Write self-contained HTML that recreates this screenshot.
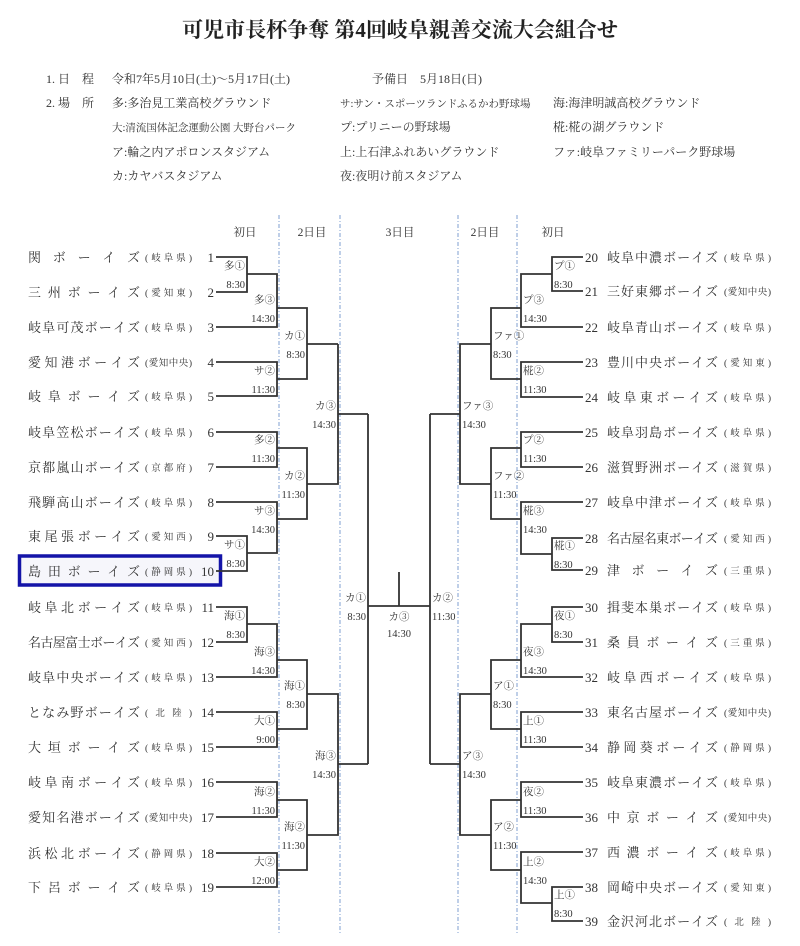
<!DOCTYPE html>
<html><head><meta charset="utf-8"><style>
html,body{margin:0;padding:0;background:#fff;}
svg{display:block;}
text{font-family:"Liberation Serif","Noto Serif CJK SC","Noto Sans CJK JP",serif;fill:#333;}
.t{font-size:13px;}
.p{font-size:9.5px;}
.n{font-size:13px;}
.l{font-size:10.5px;}
.h{font-size:11.5px;}
</style></head><body>
<svg width="800" height="946" viewBox="0 0 800 946" xmlns="http://www.w3.org/2000/svg">
<text x="400" y="37" text-anchor="middle" style="font-size:21px;font-weight:bold;fill:#222">可児市長杯争奪 第4回岐阜親善交流大会組合せ</text>
<g style="font-size:12px">
<text x="46" y="83">1. 日　程</text><text x="112" y="83">令和7年5月10日(土)～5月17日(土)</text><text x="372" y="83">予備日　5月18日(日)</text>
<text x="46" y="107">2. 場　所</text><text x="112" y="107">多:多治見工業高校グラウンド</text><text x="340" y="107" style="font-size:10.5px">サ:サン・スポーツランドふるかわ野球場</text><text x="553" y="107">海:海津明誠高校グラウンド</text>
<text x="112" y="131" style="font-size:10.5px">大:清流国体記念運動公園 大野台パーク</text><text x="340" y="131">プ:プリニーの野球場</text><text x="553" y="131">椛:椛の湖グラウンド</text>
<text x="112" y="156">ア:輪之内アポロンスタジアム</text><text x="340" y="156">上:上石津ふれあいグラウンド</text><text x="553" y="156">ファ:岐阜ファミリーパーク野球場</text>
<text x="112" y="180">カ:カヤバスタジアム</text><text x="340" y="180">夜:夜明け前スタジアム</text>
</g>
<g stroke="#7f9fd0" stroke-width="1" stroke-dasharray="4,2,1,2" fill="none">
<line x1="279" y1="215" x2="279" y2="935"/><line x1="340" y1="215" x2="340" y2="935"/>
<line x1="458" y1="215" x2="458" y2="935"/><line x1="517" y1="215" x2="517" y2="935"/>
</g>
<g class="h">
<text x="245" y="236" text-anchor="middle">初日</text><text x="312" y="236" text-anchor="middle">2日目</text><text x="400" y="236" text-anchor="middle">3日目</text><text x="485" y="236" text-anchor="middle">2日目</text><text x="553" y="236" text-anchor="middle">初日</text>
</g>
<rect x="19.5" y="556" width="201" height="29" fill="#f6f6fb" stroke="#1414a8" stroke-width="3.5"/>
<g fill="none" stroke="#333" stroke-width="1.8">
<path d="M216 257H247V292H216M247 274H277V327H216M216 362H277V396H216M277 308H307V379H277M307 344H338M216 432H277V467H216M216 536H247V571H216M247 553H277V502H216M277 448H307V519H277M307 484H338V344M338 414H368"/>
<path d="M216 607H247V642H216M247 624H277V677H216M216 712H277V747H216M277 660H307V729H277M307 694H338V835H307M216 782H277V817H216M216 853H277V887H216M277 800H307V870H277M338 764H368M368 414V764"/>
<path d="M368 606H430M399 572V606M430 414V764M430 414H460M460 764H430"/>
<path d="M583 257H552V291H583M552 274H521V327H583M583 362H521V397H583M521 308H491V379H521M491 344H460V484H491M583 432H521V467H583M583 538H552V570H583M552 554H521V502H583M521 448H491V519H521"/>
<path d="M583 607H552V642H583M552 624H521V677H583M583 712H521V747H583M521 660H491V729H521M491 694H460V835H491M583 782H521V817H583M583 887H552V921H583M552 903H521V852H583M521 800H491V870H521"/>
</g>
<g class="t">
<text x="28" y="262" textLength="112" lengthAdjust="spacing">関ボーイズ</text>
<text x="28" y="297" textLength="112" lengthAdjust="spacing">三州ボーイズ</text>
<text x="28" y="332" textLength="112" lengthAdjust="spacing">岐阜可茂ボーイズ</text>
<text x="28" y="367" textLength="112" lengthAdjust="spacing">愛知港ボーイズ</text>
<text x="28" y="401" textLength="112" lengthAdjust="spacing">岐阜ボーイズ</text>
<text x="28" y="437" textLength="112" lengthAdjust="spacing">岐阜笠松ボーイズ</text>
<text x="28" y="472" textLength="112" lengthAdjust="spacing">京都嵐山ボーイズ</text>
<text x="28" y="507" textLength="112" lengthAdjust="spacing">飛騨高山ボーイズ</text>
<text x="28" y="541" textLength="112" lengthAdjust="spacing">東尾張ボーイズ</text>
<text x="28" y="576" textLength="112" lengthAdjust="spacing">島田ボーイズ</text>
<text x="28" y="612" textLength="112" lengthAdjust="spacing">岐阜北ボーイズ</text>
<text x="28" y="647" textLength="112" lengthAdjust="spacing">名古屋富士ボーイズ</text>
<text x="28" y="682" textLength="112" lengthAdjust="spacing">岐阜中央ボーイズ</text>
<text x="28" y="717" textLength="112" lengthAdjust="spacing">となみ野ボーイズ</text>
<text x="28" y="752" textLength="112" lengthAdjust="spacing">大垣ボーイズ</text>
<text x="28" y="787" textLength="112" lengthAdjust="spacing">岐阜南ボーイズ</text>
<text x="28" y="822" textLength="112" lengthAdjust="spacing">愛知名港ボーイズ</text>
<text x="28" y="858" textLength="112" lengthAdjust="spacing">浜松北ボーイズ</text>
<text x="28" y="892" textLength="112" lengthAdjust="spacing">下呂ボーイズ</text>
<text x="607" y="262" textLength="111" lengthAdjust="spacing">岐阜中濃ボーイズ</text>
<text x="607" y="296" textLength="111" lengthAdjust="spacing">三好東郷ボーイズ</text>
<text x="607" y="332" textLength="111" lengthAdjust="spacing">岐阜青山ボーイズ</text>
<text x="607" y="367" textLength="111" lengthAdjust="spacing">豊川中央ボーイズ</text>
<text x="607" y="402" textLength="111" lengthAdjust="spacing">岐阜東ボーイズ</text>
<text x="607" y="437" textLength="111" lengthAdjust="spacing">岐阜羽島ボーイズ</text>
<text x="607" y="472" textLength="111" lengthAdjust="spacing">滋賀野洲ボーイズ</text>
<text x="607" y="507" textLength="111" lengthAdjust="spacing">岐阜中津ボーイズ</text>
<text x="607" y="543" textLength="111" lengthAdjust="spacing">名古屋名東ボーイズ</text>
<text x="607" y="575" textLength="111" lengthAdjust="spacing">津ボーイズ</text>
<text x="607" y="612" textLength="111" lengthAdjust="spacing">揖斐本巣ボーイズ</text>
<text x="607" y="647" textLength="111" lengthAdjust="spacing">桑員ボーイズ</text>
<text x="607" y="682" textLength="111" lengthAdjust="spacing">岐阜西ボーイズ</text>
<text x="607" y="717" textLength="111" lengthAdjust="spacing">東名古屋ボーイズ</text>
<text x="607" y="752" textLength="111" lengthAdjust="spacing">静岡葵ボーイズ</text>
<text x="607" y="787" textLength="111" lengthAdjust="spacing">岐阜東濃ボーイズ</text>
<text x="607" y="822" textLength="111" lengthAdjust="spacing">中京ボーイズ</text>
<text x="607" y="857" textLength="111" lengthAdjust="spacing">西濃ボーイズ</text>
<text x="607" y="892" textLength="111" lengthAdjust="spacing">岡崎中央ボーイズ</text>
<text x="607" y="926" textLength="111" lengthAdjust="spacing">金沢河北ボーイズ</text>
</g>
<g class="p">
<text x="145" y="261" textLength="47" lengthAdjust="spacing">(岐阜県)</text><text x="145" y="296" textLength="47" lengthAdjust="spacing">(愛知東)</text><text x="145" y="331" textLength="47" lengthAdjust="spacing">(岐阜県)</text><text x="145" y="366" textLength="47" lengthAdjust="spacing">(愛知中央)</text><text x="145" y="400" textLength="47" lengthAdjust="spacing">(岐阜県)</text><text x="145" y="436" textLength="47" lengthAdjust="spacing">(岐阜県)</text><text x="145" y="471" textLength="47" lengthAdjust="spacing">(京都府)</text><text x="145" y="506" textLength="47" lengthAdjust="spacing">(岐阜県)</text><text x="145" y="540" textLength="47" lengthAdjust="spacing">(愛知西)</text><text x="145" y="575" textLength="47" lengthAdjust="spacing">(静岡県)</text><text x="145" y="611" textLength="47" lengthAdjust="spacing">(岐阜県)</text><text x="145" y="646" textLength="47" lengthAdjust="spacing">(愛知西)</text><text x="145" y="681" textLength="47" lengthAdjust="spacing">(岐阜県)</text><text x="145" y="716" textLength="47" lengthAdjust="spacing">( 北 陸 )</text><text x="145" y="751" textLength="47" lengthAdjust="spacing">(岐阜県)</text><text x="145" y="786" textLength="47" lengthAdjust="spacing">(岐阜県)</text><text x="145" y="821" textLength="47" lengthAdjust="spacing">(愛知中央)</text><text x="145" y="857" textLength="47" lengthAdjust="spacing">(静岡県)</text><text x="145" y="891" textLength="47" lengthAdjust="spacing">(岐阜県)</text>
<text x="724" y="261" textLength="47" lengthAdjust="spacing">(岐阜県)</text><text x="724" y="295" textLength="47" lengthAdjust="spacing">(愛知中央)</text><text x="724" y="331" textLength="47" lengthAdjust="spacing">(岐阜県)</text><text x="724" y="366" textLength="47" lengthAdjust="spacing">(愛知東)</text><text x="724" y="401" textLength="47" lengthAdjust="spacing">(岐阜県)</text><text x="724" y="436" textLength="47" lengthAdjust="spacing">(岐阜県)</text><text x="724" y="471" textLength="47" lengthAdjust="spacing">(滋賀県)</text><text x="724" y="506" textLength="47" lengthAdjust="spacing">(岐阜県)</text><text x="724" y="542" textLength="47" lengthAdjust="spacing">(愛知西)</text><text x="724" y="574" textLength="47" lengthAdjust="spacing">(三重県)</text><text x="724" y="611" textLength="47" lengthAdjust="spacing">(岐阜県)</text><text x="724" y="646" textLength="47" lengthAdjust="spacing">(三重県)</text><text x="724" y="681" textLength="47" lengthAdjust="spacing">(岐阜県)</text><text x="724" y="716" textLength="47" lengthAdjust="spacing">(愛知中央)</text><text x="724" y="751" textLength="47" lengthAdjust="spacing">(静岡県)</text><text x="724" y="786" textLength="47" lengthAdjust="spacing">(岐阜県)</text><text x="724" y="821" textLength="47" lengthAdjust="spacing">(愛知中央)</text><text x="724" y="856" textLength="47" lengthAdjust="spacing">(岐阜県)</text><text x="724" y="891" textLength="47" lengthAdjust="spacing">(愛知東)</text><text x="724" y="925" textLength="47" lengthAdjust="spacing">( 北 陸 )</text>
</g>
<g class="n" text-anchor="end">
<text x="214" y="262">1</text><text x="214" y="297">2</text><text x="214" y="332">3</text><text x="214" y="367">4</text><text x="214" y="401">5</text><text x="214" y="437">6</text><text x="214" y="472">7</text><text x="214" y="507">8</text><text x="214" y="541">9</text><text x="214" y="576">10</text><text x="214" y="612">11</text><text x="214" y="647">12</text><text x="214" y="682">13</text><text x="214" y="717">14</text><text x="214" y="752">15</text><text x="214" y="787">16</text><text x="214" y="822">17</text><text x="214" y="858">18</text><text x="214" y="892">19</text>
</g>
<g class="n">
<text x="585" y="262">20</text><text x="585" y="296">21</text><text x="585" y="332">22</text><text x="585" y="367">23</text><text x="585" y="402">24</text><text x="585" y="437">25</text><text x="585" y="472">26</text><text x="585" y="507">27</text><text x="585" y="543">28</text><text x="585" y="575">29</text><text x="585" y="612">30</text><text x="585" y="647">31</text><text x="585" y="682">32</text><text x="585" y="717">33</text><text x="585" y="752">34</text><text x="585" y="787">35</text><text x="585" y="822">36</text><text x="585" y="857">37</text><text x="585" y="892">38</text><text x="585" y="926">39</text>
</g>
<g class="l" text-anchor="end">
<text x="245" y="269">多①</text><text x="245" y="288">8:30</text>
<text x="245" y="548">サ①</text><text x="245" y="567">8:30</text>
<text x="245" y="619">海①</text><text x="245" y="638">8:30</text>
<text x="275" y="303">多③</text><text x="275" y="322">14:30</text>
<text x="275" y="374">サ②</text><text x="275" y="393">11:30</text>
<text x="275" y="443">多②</text><text x="275" y="462">11:30</text>
<text x="275" y="514">サ③</text><text x="275" y="533">14:30</text>
<text x="275" y="655">海③</text><text x="275" y="674">14:30</text>
<text x="275" y="724">大①</text><text x="275" y="743">9:00</text>
<text x="275" y="795">海②</text><text x="275" y="814">11:30</text>
<text x="275" y="865">大②</text><text x="275" y="884">12:00</text>
<text x="305" y="339">カ①</text><text x="305" y="358">8:30</text>
<text x="305" y="479">カ②</text><text x="305" y="498">11:30</text>
<text x="305" y="689">海①</text><text x="305" y="708">8:30</text>
<text x="305" y="830">海②</text><text x="305" y="849">11:30</text>
<text x="336" y="409">カ③</text><text x="336" y="428">14:30</text>
<text x="336" y="759">海③</text><text x="336" y="778">14:30</text>
<text x="366" y="601">カ①</text><text x="366" y="620">8:30</text>
</g>
<g class="l">
<text x="554" y="269">プ①</text><text x="554" y="288">8:30</text>
<text x="554" y="549">椛①</text><text x="554" y="568">8:30</text>
<text x="554" y="619">夜①</text><text x="554" y="638">8:30</text>
<text x="554" y="898">上①</text><text x="554" y="917">8:30</text>
<text x="523" y="303">プ③</text><text x="523" y="322">14:30</text>
<text x="523" y="374">椛②</text><text x="523" y="393">11:30</text>
<text x="523" y="443">プ②</text><text x="523" y="462">11:30</text>
<text x="523" y="514">椛③</text><text x="523" y="533">14:30</text>
<text x="523" y="655">夜③</text><text x="523" y="674">14:30</text>
<text x="523" y="724">上①</text><text x="523" y="743">11:30</text>
<text x="523" y="795">夜②</text><text x="523" y="814">11:30</text>
<text x="523" y="865">上②</text><text x="523" y="884">14:30</text>
<text x="493" y="339">ファ①</text><text x="493" y="358">8:30</text>
<text x="493" y="479">ファ②</text><text x="493" y="498">11:30</text>
<text x="493" y="689">ア①</text><text x="493" y="708">8:30</text>
<text x="493" y="830">ア②</text><text x="493" y="849">11:30</text>
<text x="462" y="409">ファ③</text><text x="462" y="428">14:30</text>
<text x="462" y="759">ア③</text><text x="462" y="778">14:30</text>
<text x="432" y="601">カ②</text><text x="432" y="620">11:30</text>
<text x="399" y="620" text-anchor="middle">カ③</text><text x="399" y="637" text-anchor="middle">14:30</text>
</g>
</svg>
</body></html>
